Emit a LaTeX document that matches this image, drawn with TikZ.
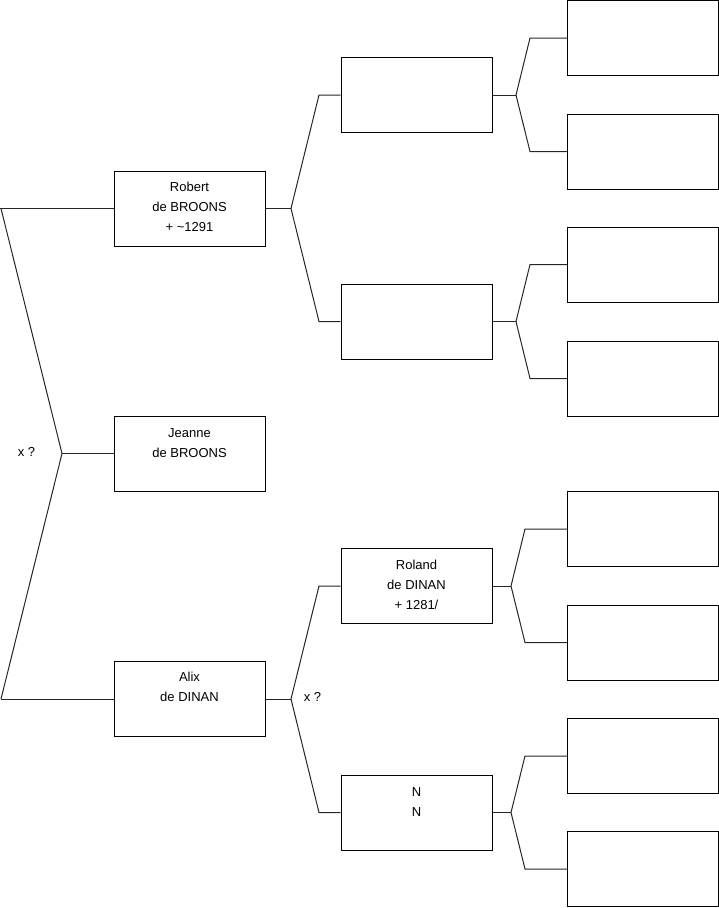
\documentclass[tikz,border=0pt]{standalone}
\usepackage{fontspec}
\setmainfont{Liberation Sans}
\usepackage{tikz}
\usetikzlibrary{positioning}

\begin{document}
\begin{tikzpicture}[x=1pt, y=-1pt,
    box/.style={draw, rectangle, line width=1pt, minimum width=151pt, minimum height=75pt, inner sep=0pt},
    txt/.style={align=center, inner sep=0pt, font=\fontsize{13}{20}\selectfont},
    link/.style={line width=1pt, draw=black!85}]

    \useasboundingbox (0,0) rectangle (719,908);

    % generation 1
    \node[box] (robert) at (189.5,208.5) {};
    \node[box] (jeanne) at (189.5,453.5) {};
    \node[box] (alix)   at (189.5,699) {};

    % generation 2
    \node[box] (p1)     at (416.5,95) {};
    \node[box] (p2)     at (416.5,321.5) {};
    \node[box] (roland) at (416.5,586) {};
    \node[box] (nn)     at (416.5,812.5) {};

    % generation 3
    \node[box] (g1) at (643,38) {};
    \node[box] (g2) at (643,151.5) {};
    \node[box] (g3) at (643,264.5) {};
    \node[box] (g4) at (643,378.5) {};
    \node[box] (g5) at (643,529) {};
    \node[box] (g6) at (643,642.5) {};
    \node[box] (g7) at (643,756) {};
    \node[box] (g8) at (643,869) {};

    % names
    \node[txt, below=11pt of robert.north] (trobert) {Robert\\de BROONS\\+ \textasciitilde1291};
    \node[txt, below=13pt of jeanne.north] (tjeanne) {Jeanne\\de BROONS};
    \node[txt, below=11pt of alix.north] (talix) {Alix\\de DINAN};
    \node[txt, below=12pt of roland.north] (troland) {Roland\\de DINAN\\+ 1281/};
    \node[txt, below=13pt of nn.north] (tnn) {N\\N};

    % junctions
    \coordinate (s0) at (1,208.5);
    \coordinate (s1) at (62,453.5);
    \coordinate (s2) at (1,699);
    \coordinate (r0) at (291,208.5);
    \coordinate (r1) at (319,95);
    \coordinate (r2) at (319,321.5);
    \coordinate (a0) at (291,699);
    \coordinate (a1) at (319,586);
    \coordinate (a2) at (319,812.5);
    \coordinate (q1) at (516,95);
    \coordinate (q2) at (516,321.5);
    \coordinate (q3) at (511,586);
    \coordinate (q4) at (511,812.5);

    \node[txt] (xleft) at (26.5,452) {x ?};
    \node[txt] (xalix) at (312.5,697) {x ?};

    % couple
    \draw[link] (robert.west) -- (0,208.5);
    \draw[link] (s0) -- (s1) -- (s2);
    \draw[link] (s1) -- (jeanne.west);
    \draw[link] (s2) -- (alix.west);

    % parents
    \draw[link] (robert.east) -- (r0);
    \draw[link] (p1.west) -- (r1) -- (r0) -- (r2) -- (p2.west);
    \draw[link] (alix.east) -- (a0);
    \draw[link] (roland.west) -- (a1) -- (a0) -- (a2) -- (nn.west);

    % grandparents
    \draw[link] (p1.east) -- (q1);
    \draw[link] (g1.west) -- (530,38) -- (q1) -- (530,151.5) -- (g2.west);
    \draw[link] (p2.east) -- (q2);
    \draw[link] (g3.west) -- (530,264.5) -- (q2) -- (530,378.5) -- (g4.west);
    \draw[link] (roland.east) -- (q3);
    \draw[link] (g5.west) -- (525,529) -- (q3) -- (525,642.5) -- (g6.west);
    \draw[link] (nn.east) -- (q4);
    \draw[link] (g7.west) -- (525,756) -- (q4) -- (525,869) -- (g8.west);

\end{tikzpicture}
\end{document}
